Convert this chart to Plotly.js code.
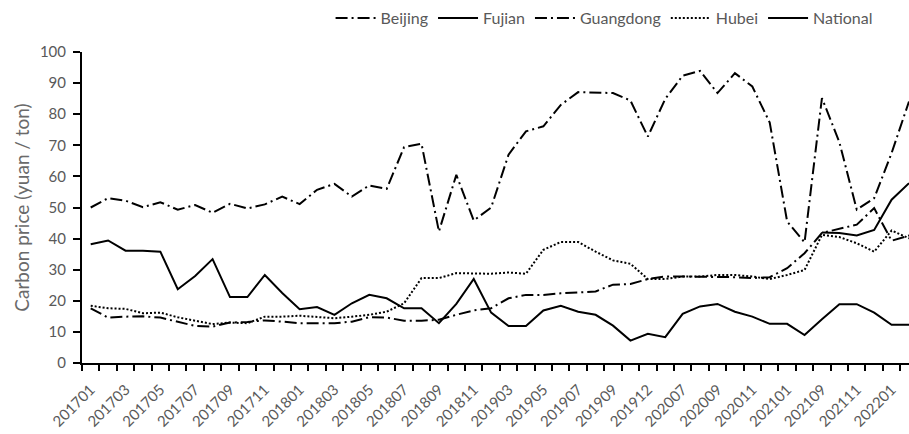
<!DOCTYPE html>
<html>
<head>
<meta charset="utf-8">
<script src="https://cdn.plot.ly/plotly-3.0.1.min.js"></script>
<style>
html,body{margin:0;padding:0;background:#fff;}
#chart{width:909px;height:434px;}
</style>
</head>
<body>
<div id="chart"></div>
<script>
const months = [
  "201701","201702","201703","201704","201705","201706","201707","201708","201709","201710","201711","201712",
  "201801","201802","201803","201804","201805","201806","201807","201808","201809","201810","201811",
  "201901","201903","201904","201905","201906","201907","201908","201909","201910","201912",
  "202006","202007","202008","202009","202010","202011","202012","202101","202106",
  "202109","202110","202111","202112","202201","202202"
];

const beijing = [
  50.0,53.0,52.2,50.1,51.7,49.3,50.8,48.3,51.2,49.7,51.0,53.5,
  51.1,55.7,57.6,53.5,57.1,56.0,69.4,70.5,42.3,60.5,45.8,
  50.0,67.0,74.5,76.1,83.0,87.1,87.0,86.8,84.4,72.8,
  84.9,92.4,93.9,86.8,93.2,88.9,77.3,45.5,38.8,
  85.2,71.0,49.3,53.0,67.5,84.1
];

const fujian = [
  38.2,39.4,36.1,36.1,35.8,23.7,28.0,33.4,21.2,21.2,28.3,22.5,
  17.3,18.0,15.5,19.2,21.9,20.8,17.6,17.6,12.8,19.0,27.0,
  16.2,11.9,11.9,16.9,18.4,16.5,15.5,12.0,7.2,9.4,
  8.3,15.8,18.2,19.0,16.5,14.9,12.6,12.6,9.0,
  14.1,18.9,18.9,16.2,12.3,12.3
];

const guangdong = [
  17.6,14.6,14.9,15.0,14.6,13.3,11.9,11.7,13.0,13.2,13.7,13.3,
  12.8,12.8,12.8,13.3,14.7,14.6,13.6,13.6,13.9,15.5,16.9,
  17.6,20.8,21.9,21.9,22.4,22.7,23.0,25.2,25.4,27.0,
  27.8,27.8,27.8,27.8,27.6,27.3,27.6,30.5,35.3,
  41.8,43.2,44.5,49.8,39.3,41.0
];

const hubei = [
  18.4,17.6,17.4,16.0,16.2,14.7,13.6,12.5,13.0,12.8,14.9,14.9,
  15.2,14.7,14.4,14.9,15.5,16.5,19.2,27.3,27.3,28.9,28.7,
  28.7,29.1,28.7,36.4,38.9,38.9,35.8,33.0,31.9,27.0,
  27.0,27.8,27.8,28.3,28.3,27.8,27.0,28.3,29.9,
  41.2,40.5,38.5,35.8,42.6,40.1
];

const national = [
  null,null,null,null,null,null,null,null,null,null,null,null,
  null,null,null,null,null,null,null,null,null,null,null,
  null,null,null,null,null,null,null,null,null,null,
  null,null,null,null,null,null,null,null,null,
  42.0,41.8,41.0,42.8,52.5,57.8
];

const seriesNames = ["Beijing","Fujian","Guangdong","Hubei","National"];
const yTitle = "Carbon price (yuan / ton)";
const tickText = months.map((m,i) => (i % 2 === 0 ? m : ""));

const FONT = "Lato, 'Open Sans', sans-serif";
const GRAY = "#595959";
const dashDot = "12px,4px,2px,4px";

const traces = [
  {name: seriesNames[0], y: beijing, line: {color: "#000", width: 2, dash: dashDot}},
  {name: seriesNames[1], y: fujian, line: {color: "#000", width: 2}},
  {name: seriesNames[2], y: guangdong, line: {color: "#000", width: 2, dash: dashDot}},
  {name: seriesNames[3], y: hubei, line: {color: "#000", width: 2, dash: "2px,2px"}},
  {name: seriesNames[4], y: national, line: {color: "#000", width: 2}}
].map(t => Object.assign({x: months, type: "scatter", mode: "lines", connectgaps: false}, t));

const layout = {
  width: 909, height: 434,
  margin: {l: 82, r: 0, t: 52, b: 71},
  paper_bgcolor: "#fff", plot_bgcolor: "#fff",
  font: {family: FONT, color: GRAY, size: 14},
  showlegend: true,
  legend: {
    orientation: "h", x: 0.962, xanchor: "right", y: 1.109, yanchor: "middle",
    font: {family: FONT, size: 16, color: GRAY},
    bgcolor: "rgba(0,0,0,0)", itemwidth: 40, tracegroupgap: 0
  },
  xaxis: {
    type: "category",
    categoryorder: "array", categoryarray: months,
    range: [-0.5, 47],
    tickmode: "array", tickvals: months, ticktext: tickText,
    tickson: "boundaries",
    ticks: "outside", ticklen: 6, tickwidth: 2, tickcolor: "#000",
    tickangle: -45,
    ticklabelstandoff: 10,
    tickfont: {family: FONT, size: 15, color: GRAY},
    showline: true, linecolor: "#000", linewidth: 2,
    showgrid: false, zeroline: false, automargin: false
  },
  yaxis: {
    range: [0, 100], dtick: 10, tick0: 0,
    ticks: "outside", ticklen: 7, tickwidth: 2, tickcolor: "#000",
    tickfont: {family: FONT, size: 15, color: GRAY},
    ticklabelstandoff: 4,
    showline: true, linecolor: "#000", linewidth: 2,
    showgrid: false, zeroline: false, automargin: false,
    title: {text: yTitle, font: {family: FONT, size: 19, color: "#6a6a6a"}, standoff: 5}
  }
};

Plotly.newPlot("chart", traces, layout, {displayModeBar: false, staticPlot: true});
</script>
</body>
</html>
